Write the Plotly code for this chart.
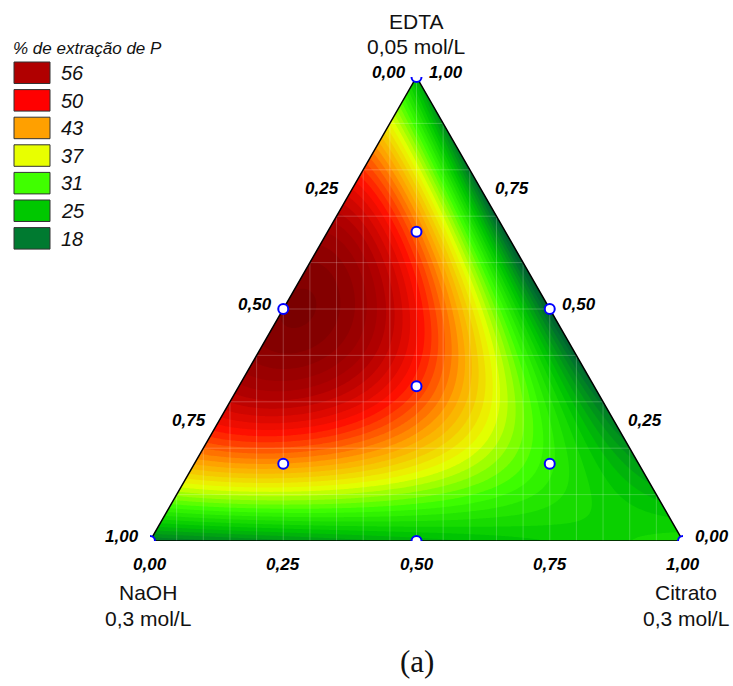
import numpy as np
import plotly.graph_objects as go

W, H = 733, 686

# ---- data: mixture design (fractions) and % extraction ----
naoh = [1, 0, 0, 0.5, 0, 0.5, 1/3, 2/3, 1/6, 1/6]
edta = [0, 1, 0, 0.5, 0.5, 0, 1/3, 1/6, 2/3, 1/6]
citr = [0, 0, 1, 0, 0.5, 0.5, 1/3, 1/6, 1/6, 2/3]
extr = [19, 23, 27, 61, 16, 23, 47, 44, 46, 30]

legend_levels = ["56", "50", "43", "37", "31", "25", "18"]
legend_colors = ["#B00000", "#FF0000", "#FFA000", "#E8FF00", "#40FF00", "#00C800", "#007A30"]
tick_vals = [0.0, 0.25, 0.5, 0.75, 1.0]
tick_text = ["0,00", "0,25", "0,50", "0,75", "1,00"]

# ---- special quartic Scheffe model fitted to the design points ----
def terms(n, e, c):
    return np.stack([n, e, c, n * e, n * c, e * c,
                     n * n * e * c, n * e * e * c, n * e * c * c], axis=-1)

A = terms(np.array(naoh), np.array(edta), np.array(citr))
coef, *_ = np.linalg.lstsq(A, np.array(extr, dtype=float), rcond=None)

# cartesian coordinates: x = C + E/2, y = E
gx = np.linspace(0, 1, 301)
gy = np.linspace(0, 1, 301)
X, Y = np.meshgrid(gx, gy)
Eg = Y
Cg = X - Y / 2
Ng = 1 - Eg - Cg
Z = terms(Ng, Eg, Cg) @ coef

zmin, zmax = 12, 64
stops = [(12, "#004020"), (18, "#006A30"), (25, "#00C800"), (31, "#40FF00"),
         (37, "#E8FF00"), (43, "#FFA000"), (50, "#FF1000"), (56, "#B00000"),
         (64, "#6A0000")]
cscale = [[(v - zmin) / (zmax - zmin), c] for v, c in stops]

fig = go.Figure()
fig.add_trace(go.Contour(
    x=gx, y=gy, z=Z, colorscale=cscale, zmin=zmin, zmax=zmax,
    contours=dict(start=zmin, end=zmax, size=1.2, coloring="fill"),
    line=dict(width=0), showscale=False, hoverinfo="skip"))

# faint mesh lines
mx, my = [], []
for k in range(1, 20):
    mx += [k / 20, k / 20, None]
    my += [0, 1, None]
for k in range(1, 10):
    mx += [0, 1, None]
    my += [k / 10, k / 10, None]
fig.add_trace(go.Scatter(x=mx, y=my, mode="lines",
                         line=dict(color="rgba(255,255,255,0.22)", width=1),
                         hoverinfo="skip", showlegend=False))

# white mask outside triangle (edges follow x = y/2 and x = 1 - y/2)
fig.add_trace(go.Scatter(
    x=[-0.01, 0.51, -0.1, -0.1, -0.01, None, 1.01, 0.49, 1.1, 1.1, 1.01],
    y=[-0.02, 1.02, 1.02, -0.02, -0.02, None, -0.02, 1.02, 1.02, -0.02, -0.02],
    mode="lines", fill="toself", fillcolor="white", line=dict(width=0, color="white"),
    hoverinfo="skip", showlegend=False))

# outline
fig.add_trace(go.Scatter(x=[0, 0.5, 1, 0], y=[0, 1, 0, 0], mode="lines",
                         line=dict(color="black", width=1.5), cliponaxis=False,
                         hoverinfo="skip", showlegend=False))

# design points
px = [c + e / 2 for c, e in zip(citr, edta)]
py = list(edta)
fig.add_trace(go.Scatter(x=px, y=py, mode="markers",
                         marker=dict(size=10, color="white", line=dict(color="#0000FF", width=2)),
                         hoverinfo="skip", showlegend=False))

ann = []
tick_font = dict(family="Liberation Sans", size=17, color="black")
def bi(t):
    return "<b><i>" + t + "</i></b>"

for v, t in zip(tick_vals, tick_text):
    # left edge: NaOH fraction (1 at bottom-left)
    e = 1 - v
    ann.append(dict(x=e / 2, y=e, xref="x", yref="y", text=bi(t), showarrow=False,
                    xanchor="right", yanchor="middle", xshift=-9, yshift=5, font=tick_font))
    # right edge: EDTA fraction (1 at top)
    ann.append(dict(x=1 - v / 2, y=v, xref="x", yref="y", text=bi(t), showarrow=False,
                    xanchor="left", yanchor="middle", xshift=10, yshift=5, font=tick_font))
    # bottom: Citrato fraction
    ann.append(dict(x=v, y=0, xref="x", yref="y", text=bi(t), showarrow=False,
                    xanchor="center", yanchor="middle", yshift=-23, font=tick_font))

def pann(x, y, text, size=21, family="Liberation Sans", xanchor="center"):
    return dict(x=x / W, y=1 - y / H, xref="paper", yref="paper", text=text, showarrow=False,
                xanchor=xanchor, yanchor="middle", font=dict(family=family, size=size, color="#111"))

ann += [pann(416, 21, "EDTA"), pann(416, 46, "0,05 mol/L"),
        pann(148, 592, "NaOH"), pann(148, 618, "0,3 mol/L"),
        pann(686, 592, "Citrato"), pann(686, 618, "0,3 mol/L"),
        pann(417, 661, "(a)", size=31, family="Liberation Serif"),
        pann(11, 48, "<i>% de extração de P</i>", size=17, xanchor="left")]

shapes = []
for i, (lab, col) in enumerate(zip(legend_levels, legend_colors)):
    y0 = 62 + i * 27.6
    shapes.append(dict(type="rect", xref="paper", yref="paper",
                       x0=14 / W, x1=50 / W, y0=1 - y0 / H, y1=1 - (y0 + 21.5) / H,
                       fillcolor=col, line=dict(color="#333", width=1)))
    ann.append(pann(59, y0 + 11, "<i>" + lab + "</i>", size=20, xanchor="left"))

fig.update_layout(
    width=W, height=H, margin=dict(l=0, r=0, t=0, b=0, pad=0),
    paper_bgcolor="white", plot_bgcolor="white", showlegend=False,
    xaxis=dict(domain=[150 / W, 683 / W], range=[0, 1], visible=False, fixedrange=True),
    yaxis=dict(domain=[(H - 541) / H, (H - 77) / H], range=[0, 1], visible=False, fixedrange=True),
    annotations=ann, shapes=shapes)

fig.write_html("out.html")
